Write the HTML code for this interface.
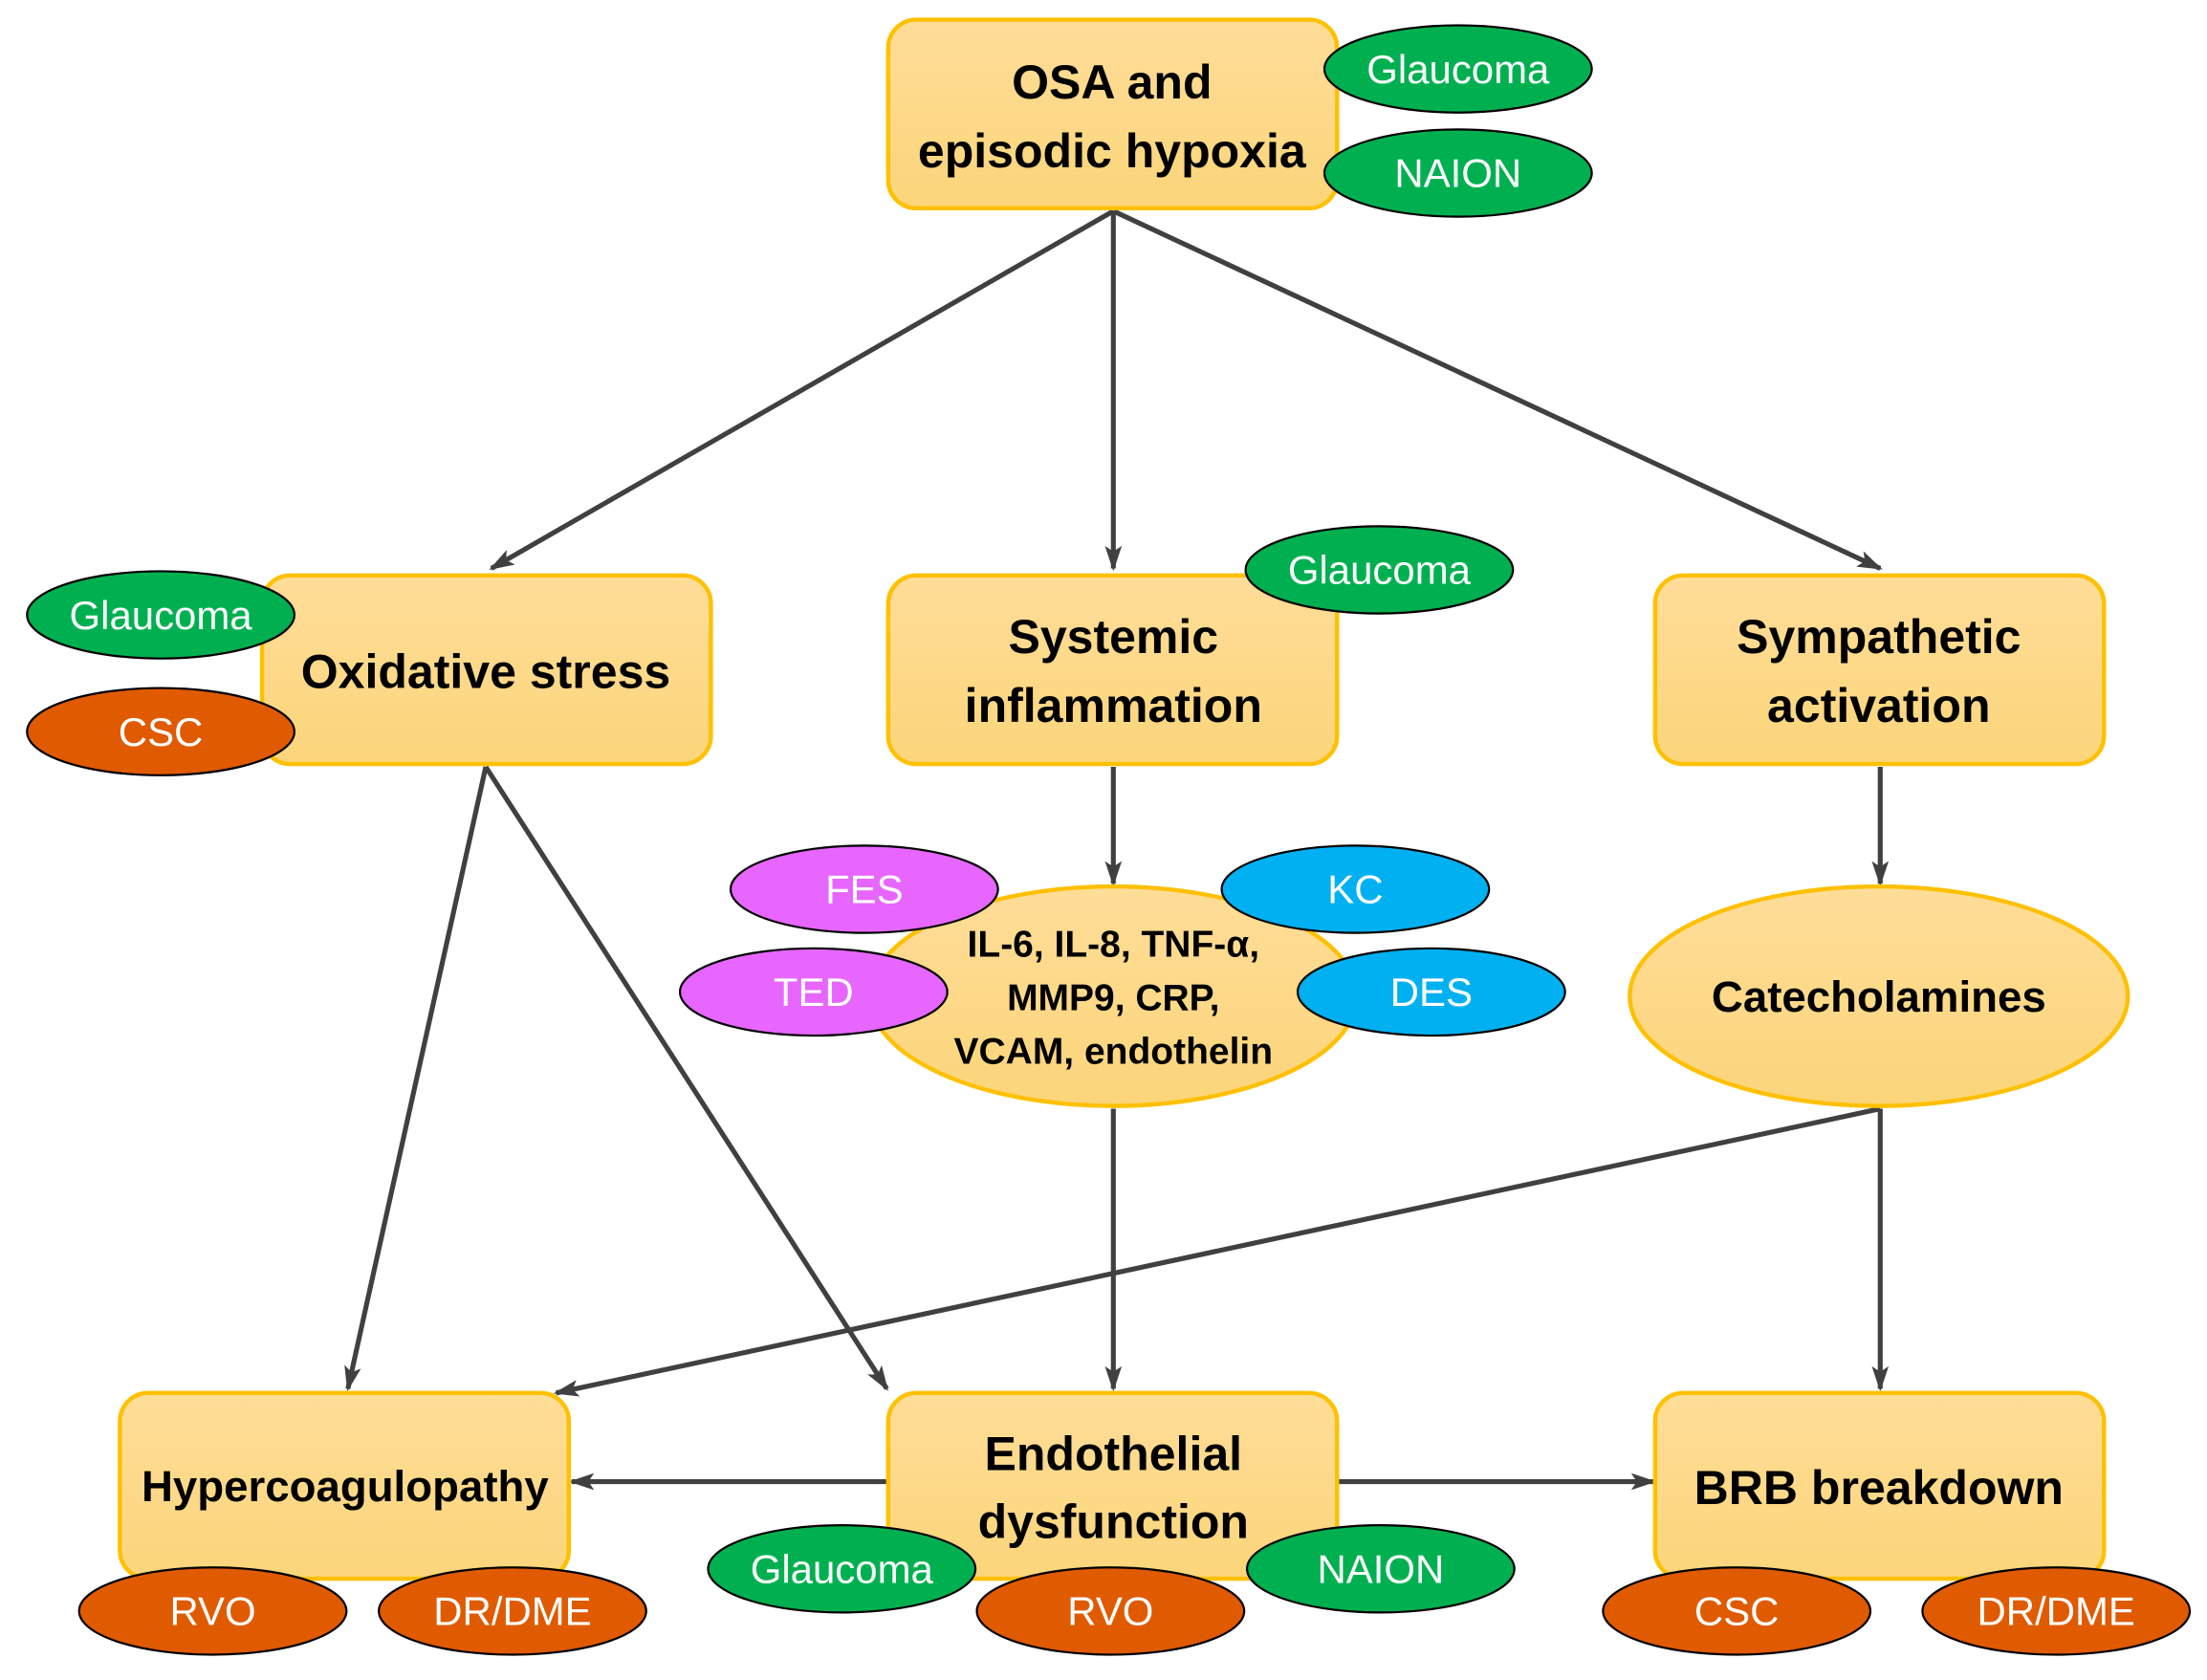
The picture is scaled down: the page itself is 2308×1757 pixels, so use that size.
<!DOCTYPE html>
<html><head><meta charset="utf-8"><style>
html,body{margin:0;padding:0;background:#fff;}
svg{display:block;}
.b{font-family:"Liberation Sans",sans-serif;font-weight:bold;fill:#000;text-anchor:middle;}
.e{font-family:"Liberation Sans",sans-serif;fill:#fff;text-anchor:middle;font-size:28.5px;}
</style></head><body>
<svg width="2308" height="1757" viewBox="0 0 1568 1194" xmlns="http://www.w3.org/2000/svg">
<defs>
<linearGradient id="g" x1="0" y1="0" x2="0" y2="1"><stop offset="0" stop-color="#FEDD98"/><stop offset="1" stop-color="#FCD57A"/></linearGradient>
<marker id="a" markerWidth="18" markerHeight="12" refX="16" refY="6" orient="auto" markerUnits="userSpaceOnUse"><path d="M0,0 L18,6 L0,12 L4,6 Z" fill="#404040"/></marker>
</defs>
<rect width="1568" height="1194" fill="#fff"/>
<g stroke="#404040" stroke-width="3.5" fill="none" marker-end="url(#a)">
<line x1="791" y1="150" x2="349" y2="404"/>
<line x1="791" y1="150" x2="791" y2="404"/>
<line x1="791" y1="150" x2="1336" y2="404"/>
<line x1="345" y1="545" x2="247" y2="987"/>
<line x1="345" y1="545" x2="630" y2="987"/>
<line x1="791" y1="545" x2="791" y2="628"/>
<line x1="1336" y1="545" x2="1336" y2="628"/>
<line x1="791" y1="788" x2="791" y2="987"/>
<line x1="1336" y1="788" x2="1336" y2="987"/>
<line x1="1336" y1="788" x2="395" y2="990"/>
<line x1="631" y1="1053" x2="406" y2="1053"/>
<line x1="950" y1="1053" x2="1175" y2="1053"/>
</g>
<g fill="url(#g)" stroke="#FFC000" stroke-width="3">
<rect x="631" y="14" width="319" height="134" rx="20"/>
<rect x="186" y="409" width="319" height="134" rx="20"/>
<rect x="631" y="409" width="319" height="134" rx="20"/>
<rect x="1176" y="409" width="319" height="134" rx="20"/>
<ellipse cx="791" cy="708" rx="173" ry="78"/>
<ellipse cx="1335" cy="708" rx="177" ry="78"/>
<rect x="85" y="990" width="319" height="132" rx="20"/>
<rect x="631" y="990" width="319" height="132" rx="20"/>
<rect x="1176" y="990" width="319" height="132" rx="20"/>
</g>
<g class="b" font-size="34">
<text x="790" y="70">OSA and</text>
<text x="790" y="119">episodic hypoxia</text>
<text x="345" y="489">Oxidative stress</text>
<text x="791" y="464">Systemic</text>
<text x="791" y="513">inflammation</text>
<text x="1335" y="464">Sympathetic</text>
<text x="1335" y="513">activation</text>
<text x="791" y="1045">Endothelial</text>
<text x="791" y="1093">dysfunction</text>
<text x="1335" y="1069">BRB breakdown</text>
</g>
<g class="b" font-size="31">
<text x="245" y="1067">Hypercoagulopathy</text>
<text x="1335" y="719">Catecholamines</text>
</g>
<g class="b" font-size="26.5">
<text x="791" y="680">IL-6, IL-8, TNF-α,</text>
<text x="791" y="718">MMP9, CRP,</text>
<text x="791" y="756">VCAM, endothelin</text>
</g>
<g stroke="#000" stroke-width="1.5">
<ellipse cx="1036" cy="49" rx="95" ry="31" fill="#00B050"/>
<ellipse cx="1036" cy="123" rx="95" ry="31" fill="#00B050"/>
<ellipse cx="114" cy="437" rx="95" ry="31" fill="#00B050"/>
<ellipse cx="114" cy="520" rx="95" ry="31" fill="#E05A00"/>
<ellipse cx="980" cy="405" rx="95" ry="31" fill="#00B050"/>
<ellipse cx="614" cy="632" rx="95" ry="31" fill="#E666FF"/>
<ellipse cx="963" cy="632" rx="95" ry="31" fill="#00B0F0"/>
<ellipse cx="578" cy="705" rx="95" ry="31" fill="#E666FF"/>
<ellipse cx="1017" cy="705" rx="95" ry="31" fill="#00B0F0"/>
<ellipse cx="151" cy="1145" rx="95" ry="31" fill="#E05A00"/>
<ellipse cx="364" cy="1145" rx="95" ry="31" fill="#E05A00"/>
<ellipse cx="598" cy="1115" rx="95" ry="31" fill="#00B050"/>
<ellipse cx="981" cy="1115" rx="95" ry="31" fill="#00B050"/>
<ellipse cx="789" cy="1145" rx="95" ry="31" fill="#E05A00"/>
<ellipse cx="1234" cy="1145" rx="95" ry="31" fill="#E05A00"/>
<ellipse cx="1461" cy="1145" rx="95" ry="31" fill="#E05A00"/>
</g>
<g class="e">
<text x="1036" y="59">Glaucoma</text>
<text x="1036" y="133">NAION</text>
<text x="114" y="447">Glaucoma</text>
<text x="114" y="530">CSC</text>
<text x="980" y="415">Glaucoma</text>
<text x="614" y="642">FES</text>
<text x="963" y="642">KC</text>
<text x="578" y="715">TED</text>
<text x="1017" y="715">DES</text>
<text x="151" y="1155">RVO</text>
<text x="364" y="1155">DR/DME</text>
<text x="598" y="1125">Glaucoma</text>
<text x="981" y="1125">NAION</text>
<text x="789" y="1155">RVO</text>
<text x="1234" y="1155">CSC</text>
<text x="1461" y="1155">DR/DME</text>
</g>
</svg>
</body></html>
